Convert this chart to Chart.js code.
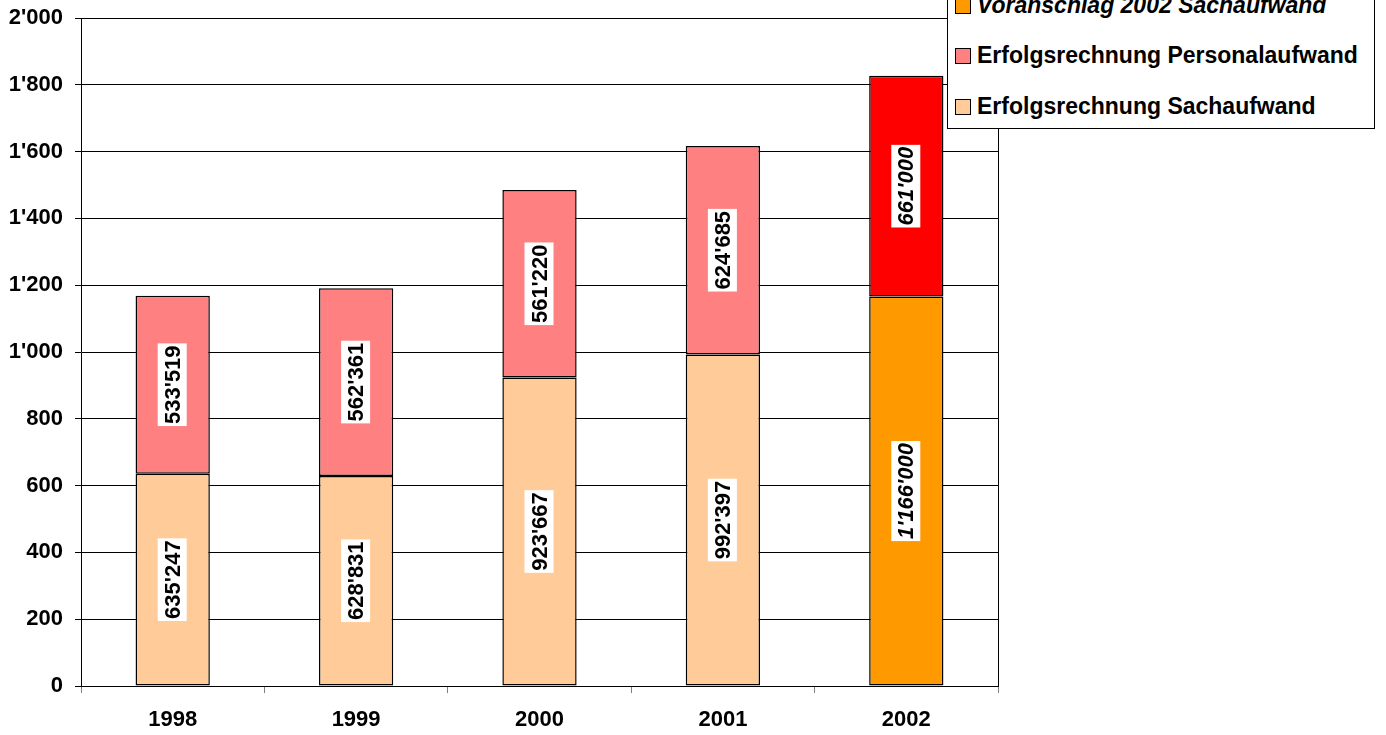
<!DOCTYPE html>
<html>
<head>
<meta charset="utf-8">
<script src="https://cdn.jsdelivr.net/npm/chart.js@4/dist/chart.umd.min.js"></script>
<style>
  html, body { margin: 0; padding: 0; background: #fff; overflow: hidden; }
  #wrap { position: relative; width: 1386px; height: 735px; }
  #legend {
    position: absolute; left: 947px; top: -71px; width: 428px; height: 200px;
    border: 1px solid #000; background: #fff; box-sizing: border-box;
    font-family: "Liberation Sans", Arial, sans-serif; font-weight: bold; font-size: 23px;
  }
  #legend .item { position: absolute; left: 7px; height: 26px; line-height: 26px; white-space: nowrap; }
  #legend .box { display: inline-block; width: 14px; height: 14px; border: 1px solid #000; margin-right: 6px; vertical-align: -1px; }
</style>
</head>
<body>
<div id="wrap">
  <canvas id="chart" width="1386" height="735"></canvas>
  <div id="legend"></div>
</div>
<script>
// values in thousand CHF
const years = ['1998', '1999', '2000', '2001', '2002'];
const sachIst = [635.247, 628.831, 923.667, 992.397, null];
const persIst = [533.519, 562.361, 561.220, 624.685, null];
const sachBudget = [null, null, null, null, 1166];
const persBudget = [null, null, null, null, 661];
const yTicks = [0, 200, 400, 600, 800, 1000, 1200, 1400, 1600, 1800, 2000];

const FONT = '"Liberation Sans", Arial, sans-serif';

function swiss(n) {
  return String(n).replace(/\B(?=(\d{3})+(?!\d))/g, "'");
}

const datasets = [
  { label: 'Erfolgsrechnung Sachaufwand', data: sachIst, backgroundColor: '#FFCC99', italic: false },
  { label: 'Erfolgsrechnung Personalaufwand', data: persIst, backgroundColor: '#FF8080', italic: false },
  { label: 'Voranschlag 2002 Sachaufwand', data: sachBudget, backgroundColor: '#FF9900', italic: true },
  { label: 'Voranschlag 2002 Personalaufwand', data: persBudget, backgroundColor: '#FF0000', italic: true }
].map(ds => Object.assign(ds, {
  borderColor: '#000000',
  borderWidth: 1.5,
  barPercentage: 0.405,
  categoryPercentage: 1.0,
  borderSkipped: false
}));

// legend, last dataset on top (partly cut off by the page edge as in the original)
const legend = document.getElementById('legend');
datasets.slice().reverse().forEach((ds, i) => {
  const item = document.createElement('div');
  item.className = 'item';
  item.style.top = (11 + i * 50.5) + 'px';
  if (ds.italic) item.style.fontStyle = 'italic';
  item.innerHTML = '<span class="box" style="background:' + ds.backgroundColor + '"></span>' + ds.label;
  legend.appendChild(item);
});

const valueLabels = {
  id: 'valueLabels',
  afterDatasetsDraw(chart) {
    const ctx = chart.ctx;
    chart.data.datasets.forEach((ds, di) => {
      const meta = chart.getDatasetMeta(di);
      meta.data.forEach((bar, i) => {
        const v = ds.data[i];
        if (v == null) return;
        const text = swiss(Math.round(v * 1000));
        ctx.save();
        ctx.translate(bar.x, (bar.y + bar.base) / 2);
        ctx.rotate(-Math.PI / 2);
        ctx.font = (ds.italic ? 'italic ' : '') + 'bold 22px ' + FONT;
        const w = ctx.measureText(text).width;
        ctx.fillStyle = '#ffffff';
        ctx.fillRect(-w / 2 - 2, -15, w + 4, 29);
        ctx.fillStyle = '#000000';
        ctx.textAlign = 'center';
        ctx.textBaseline = 'middle';
        ctx.fillText(text, 0, 1);
        ctx.restore();
      });
    });
  }
};

const plotBorder = {
  id: 'plotBorder',
  beforeDatasetsDraw(chart) {
    const a = chart.chartArea, ctx = chart.ctx;
    ctx.save();
    ctx.strokeStyle = '#000000';
    ctx.lineWidth = 1;
    ctx.beginPath();
    ctx.moveTo(Math.round(a.right) + 0.5, a.top);
    ctx.lineTo(Math.round(a.right) + 0.5, a.bottom);
    ctx.stroke();
    ctx.restore();
  }
};

new Chart(document.getElementById('chart'), {
  type: 'bar',
  data: { labels: years, datasets: datasets },
  options: {
    responsive: false,
    animation: false,
    layout: { padding: { top: 0, right: 388, left: 0, bottom: 0 } },
    plugins: {
      legend: { display: false },
      tooltip: { enabled: false }
    },
    scales: {
      x: {
        stacked: true,
        grid: { display: true, drawOnChartArea: false, offset: true, color: '#808080', tickLength: 7, lineWidth: 1 },
        border: { color: '#000000', width: 1 },
        ticks: { color: '#000', font: { family: FONT, size: 22, weight: 'bold' }, padding: 14 },
        afterFit(scale) { scale.height = 49; }
      },
      y: {
        stacked: true,
        min: 0,
        max: 2000,
        afterBuildTicks(scale) { scale.ticks = yTicks.map(v => ({ value: v })); },
        grid: { color: '#000000', lineWidth: 1, tickLength: 6 },
        border: { color: '#000000', width: 1 },
        ticks: {
          color: '#000',
          font: { family: FONT, size: 22, weight: 'bold' },
          padding: 12,
          callback: v => swiss(v)
        },
        afterFit(scale) {
          scale.width = 81;
          scale.paddingTop = 18;
          scale.paddingBottom = 0;
        }
      }
    }
  },
  plugins: [plotBorder, valueLabels]
});
</script>
</body>
</html>
